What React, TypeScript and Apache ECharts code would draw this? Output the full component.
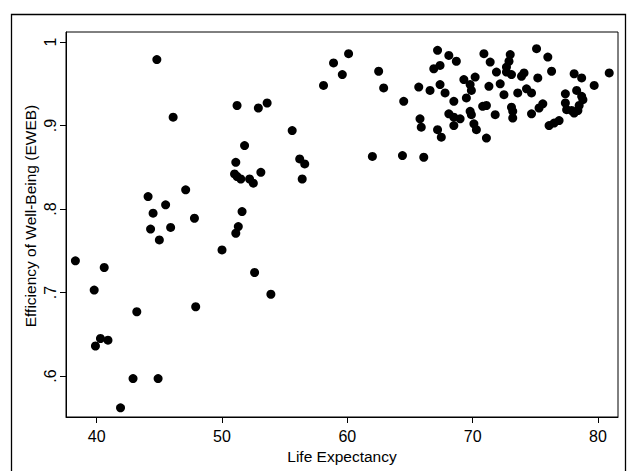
import React, { useEffect, useRef } from "react";
import * as echarts from "echarts";

const lifeExpectancy: number[] = [
  38.3, 39.8, 39.9, 40.3, 40.6, 40.9, 41.9, 42.9, 43.2, 44.1, 44.3, 44.5, 44.8, 44.9, 45.0, 45.5, 45.9, 46.1, 47.1, 47.8, 47.9,
  50.0, 51.0, 51.1, 51.1, 51.2, 51.2, 51.3, 51.5, 51.6, 51.8, 52.2, 52.5, 52.6, 52.9, 53.1, 53.6, 53.9, 55.6, 56.2, 56.4, 56.6,
  58.1, 58.9, 59.6, 60.1, 62.0, 62.5, 62.9, 64.4, 64.5, 65.7, 65.8, 65.9, 66.1, 66.6,
  66.9, 67.2, 67.2, 67.4, 67.4, 67.5, 67.8, 68.1, 68.1, 68.5, 68.5, 68.5, 68.7, 69.0, 69.3, 69.5, 69.8, 69.8, 69.9, 69.9,
  70.1, 70.2, 70.3, 70.8, 70.9, 71.1, 71.1, 71.3, 71.4, 71.8, 71.9, 72.2, 72.5, 72.7, 72.7, 72.9, 73.0, 73.1, 73.1, 73.2,
  73.2, 73.6, 73.9, 74.1, 74.3, 74.7, 74.7, 75.1, 75.2, 75.3, 75.6, 76.0, 76.1, 76.3, 76.5, 76.9, 77.4, 77.4, 77.5, 77.9,
  78.1, 78.1, 78.3, 78.4, 78.5, 78.7, 78.7, 78.8, 79.7, 80.9,
];

const eweb: number[] = [
  0.738, 0.703, 0.636, 0.645, 0.730, 0.643, 0.562, 0.597, 0.677, 0.815, 0.776, 0.795, 0.979, 0.597, 0.763, 0.805, 0.778, 0.910, 0.823, 0.789, 0.683,
  0.751, 0.842, 0.856, 0.771, 0.924, 0.839, 0.779, 0.836, 0.797, 0.876, 0.836, 0.831, 0.724, 0.921, 0.844, 0.927, 0.698, 0.894, 0.860, 0.836, 0.854,
  0.948, 0.975, 0.961, 0.986, 0.863, 0.965, 0.945, 0.864, 0.929, 0.946, 0.908, 0.898, 0.862, 0.942,
  0.968, 0.990, 0.895, 0.972, 0.949, 0.886, 0.939, 0.984, 0.914, 0.929, 0.910, 0.900, 0.977, 0.908, 0.955, 0.933, 0.949, 0.917, 0.942, 0.913,
  0.902, 0.958, 0.895, 0.923, 0.986, 0.924, 0.885, 0.947, 0.976, 0.913, 0.964, 0.950, 0.937, 0.970, 0.964, 0.977, 0.985, 0.961, 0.922, 0.917,
  0.909, 0.939, 0.959, 0.963, 0.944, 0.939, 0.914, 0.992, 0.957, 0.921, 0.926, 0.982, 0.900, 0.965, 0.903, 0.906, 0.938, 0.927, 0.919, 0.918,
  0.962, 0.915, 0.942, 0.918, 0.924, 0.957, 0.935, 0.931, 0.948, 0.963,
];

const xTicks: number[] = [40, 50, 60, 70, 80];
const yTicks: number[] = [0.6, 0.7, 0.8, 0.9, 1];
const xTitle = "Life Expectancy";
const yTitle = "Efficiency of Well-Being (EWEB)";

const FONT = "Liberation Sans, Arial, sans-serif";

export default function App() {
  const ref = useRef<HTMLDivElement>(null);
  useEffect(() => {
    document.body.style.margin = "0";
    if (!ref.current) return;
    const chart = echarts.init(ref.current, undefined, { renderer: "svg" });
    const points = lifeExpectancy.map((x, i) => [x, eweb[i]]);
    chart.setOption({
      animation: false,
      backgroundColor: "#ffffff",
      graphic: [
        {
          type: "rect",
          shape: { x: 11.5, y: 14.5, width: 614, height: 470 },
          style: { fill: "none", stroke: "#000", lineWidth: 1.3 },
          silent: true,
        },
        {
          type: "text",
          x: 30,
          y: 216,
          rotation: Math.PI / 2,
          style: {
            text: yTitle,
            fill: "#000",
            font: `15.5px ${FONT}`,
            align: "center",
            verticalAlign: "middle",
          },
          silent: true,
        },
      ],
      grid: {
        left: 66,
        top: 32,
        width: 552,
        height: 385,
        show: true,
        borderColor: "#000",
        borderWidth: 1,
        backgroundColor: "transparent",
      },
      xAxis: {
        type: "value",
        min: 37.55,
        max: 81.6,
        name: xTitle,
        nameLocation: "middle",
        nameGap: 25,
        nameTextStyle: { color: "#000", fontSize: 15.5, fontFamily: FONT },
        axisLine: { show: true, lineStyle: { color: "#000", width: 1 } },
        axisTick: { show: true, length: 6, inside: false, customValues: xTicks, lineStyle: { color: "#000" } },
        axisLabel: { customValues: xTicks, color: "#000", fontSize: 16, fontFamily: FONT, margin: 11 },
        splitLine: { show: false },
      },
      yAxis: {
        type: "value",
        min: 0.551,
        max: 1.012,
        axisLine: { show: true, lineStyle: { color: "#000", width: 1 } },
        axisTick: { show: true, length: 6, inside: false, customValues: yTicks, lineStyle: { color: "#000" } },
        axisLabel: {
          customValues: yTicks,
          color: "#000",
          fontSize: 16,
          fontFamily: FONT,
          rotate: 90,
          margin: 8,
          formatter: (v: number) => (v === 1 ? "1" : String(v).replace(/^0/, "")),
        },
        splitLine: { show: false },
      },
      series: [
        {
          type: "scatter",
          data: points,
          symbol: "circle",
          symbolSize: 9,
          itemStyle: { color: "#000", opacity: 1 },
        },
      ],
    });
    return () => chart.dispose();
  }, []);
  return (
    <div
      ref={ref}
      style={{ position: "absolute", left: 0, top: 0, width: 627, height: 471 }}
    />
  );
}
